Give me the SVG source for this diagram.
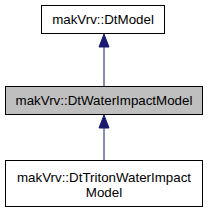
<svg xmlns="http://www.w3.org/2000/svg" width="208" height="213" viewBox="0 0 208 213">
<style>
.box{fill:#ffffff;stroke:#000000;stroke-width:1}
.cur{fill:#bfbfbf;stroke:#000000;stroke-width:1}
text{font-family:"Liberation Sans",Arial,sans-serif;font-size:13.33px;fill:#000000;text-anchor:middle}
.edge{stroke:#191970;stroke-width:1;fill:none}
.head{fill:#191970;stroke:#191970;stroke-width:1}
</style>
<rect width="208" height="213" fill="#ffffff"/>
<g id="edges">
<line class="edge" x1="104" y1="86" x2="104" y2="47"/>
<path class="head" d="M104,34 L109,47 L99,47 Z"/>
<line class="edge" x1="104" y1="160" x2="104" y2="128"/>
<path class="head" d="M104,115 L109,128 L99,128 Z"/>
</g>
<g id="node1">
<rect class="box" x="41.5" y="5.5" width="123" height="28"/>
<text x="103" y="24">makVrv::DtModel</text>
</g>
<g id="node2">
<rect class="cur" x="5.5" y="86.5" width="197" height="28"/>
<text x="104" y="105">makVrv::DtWaterImpactModel</text>
</g>
<g id="node3">
<rect class="box" x="5.5" y="160.5" width="197" height="46"/>
<text x="104" y="182">makVrv::DtTritonWaterImpact</text>
<text x="104" y="197">Model</text>
</g>
</svg>
